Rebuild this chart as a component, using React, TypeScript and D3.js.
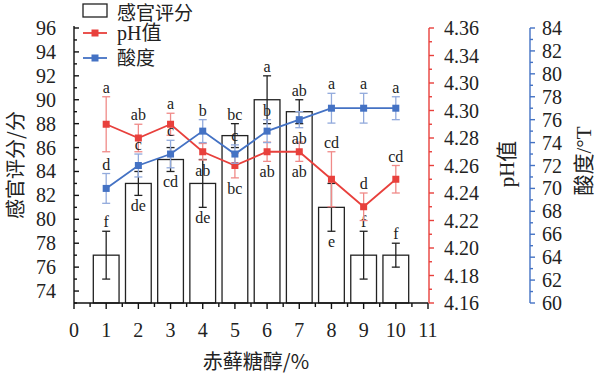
import React from "react";
import * as d3 from "d3";

const doses = [1, 2, 3, 4, 5, 6, 7, 8, 9, 10];
const sensory = [77, 83, 85, 83, 87, 90, 89, 81, 77, 77];
const sensoryErr = [2, 1, 1, 2, 1, 2, 1, 2, 2, 1];
const sensoryLetters = ["f", "de", "cd", "de", "bc", "a", "ab", "e", "f", "f"];
const sensoryPlace = ["above", "below", "below", "below", "above", "above", "above", "below", "above", "above"];

const ph = [4.29, 4.28, 4.29, 4.27, 4.26, 4.27, 4.27, 4.25, 4.23, 4.25];
const phErr = [0.02, 0.01, 0.008, 0.006, 0.009, 0.007, 0.007, 0.02, 0.01, 0.01];
const phLetters = ["a", "ab", "a", "ab", "bc", "ab", "ab", "cd", "d", "cd"];
const phPlace = ["above", "above", "above", "below", "below", "below", "below", "above", "above", "above"];

const acidity = [70, 72, 73, 75, 73, 75, 76, 77, 77, 77];
const acidityErr = [1.3, 1.0, 1.2, 1.0, 0.8, 1.0, 0.7, 1.3, 1.3, 1.0];
const acidityLetters = ["d", "c", "c", "b", "c", "b", "ab", "a", "a", "a"];
const acidityPlace = ["above", "above", "above", "above", "above", "above", "below", "above", "above", "above"];

const xTicks = [0, 1, 2, 3, 4, 5, 6, 7, 8, 9, 10, 11];
const leftTicks = [74, 76, 78, 80, 82, 84, 86, 88, 90, 92, 94, 96];
const phTicks = [4.16, 4.18, 4.2, 4.22, 4.24, 4.26, 4.28, 4.3, 4.32, 4.34, 4.36];
const phTickLabels = ["4.16", "4.18", "4.20", "4.22", "4.24", "4.26", "4.28", "4.30", "4.30", "4.34", "4.36"];
const acidTicks = [60, 62, 64, 66, 68, 70, 72, 74, 76, 78, 80, 82, 84];

const RED = "#e8403c";
const RED_LIGHT = "#f08a88";
const BLUE = "#4472c4";
const BLUE_LIGHT = "#92aadc";
const SERIF = "'Liberation Serif', 'Noto Sans CJK SC', serif";
const CJK = "'Noto Sans CJK SC', 'Liberation Serif', sans-serif";

export default function App() {
  const W = 602, H = 377;
  const x = d3.scaleLinear().domain([0, 11]).range([74, 428]);
  const yL = d3.scaleLinear().domain([73, 96]).range([303, 28]);
  const yP = d3.scaleLinear().domain([4.16, 4.36]).range([303, 28]);
  const yA = d3.scaleLinear().domain([60, 84]).range([303, 28]);
  const barW = x(0.8) - x(0);
  const phAxisX = 429;
  const acAxisX = 530;

  const line = (ys: number[], ysc: d3.ScaleLinear<number, number>) =>
    d3.line<number>().x((_, i) => x(doses[i])).y((v) => ysc(v))(ys) || "";

  const labelY = (place: string, top: number, bottom: number) =>
    place === "above" ? top - 4 : bottom + 16;

  const errBar = (cx: number, y1: number, y2: number, color: string, key: string, w = 1.3) => (
    <g key={key} stroke={color} strokeWidth={w}>
      <line x1={cx} x2={cx} y1={y1} y2={y2} />
      <line x1={cx - 4} x2={cx + 4} y1={y1} y2={y1} />
      <line x1={cx - 4} x2={cx + 4} y1={y2} y2={y2} />
    </g>
  );

  const leftMinor = d3.range(73, 96, 2);
  const xMinor = d3.range(0.5, 11, 1);
  const phMinor = d3.range(4.17, 4.36, 0.02);
  const acMinor = d3.range(61, 84, 2);

  return (
    <svg width={W} height={H} style={{ position: "absolute", left: 0, top: 0, background: "#fff" }}>
      {/* bars */}
      {doses.map((d, i) => (
        <rect key={"b" + i} x={x(d) - barW / 2} y={yL(sensory[i])} width={barW} height={yL(73) - yL(sensory[i])}
          fill="#fff" stroke="#222" strokeWidth={1.3} />
      ))}
      {doses.map((d, i) => errBar(x(d), yL(sensory[i] + sensoryErr[i]), yL(sensory[i] - sensoryErr[i]), "#222", "be" + i))}
      {doses.map((d, i) => (
        <text key={"bl" + i} x={x(d)} y={labelY(sensoryPlace[i], yL(sensory[i] + sensoryErr[i]), yL(sensory[i] - sensoryErr[i]))}
          textAnchor="middle" fontFamily={SERIF} fontSize={16} fill="#222">{sensoryLetters[i]}</text>
      ))}

      {/* pH series */}
      {doses.map((d, i) => errBar(x(d), yP(ph[i] + phErr[i]), yP(ph[i] - phErr[i]), RED_LIGHT, "pe" + i))}
      <path d={line(ph, yP)} fill="none" stroke={RED} strokeWidth={1.8} />
      {doses.map((d, i) => (
        <rect key={"pm" + i} x={x(d) - 3.5} y={yP(ph[i]) - 3.5} width={7} height={7} fill={RED} />
      ))}
      {doses.map((d, i) => (
        <text key={"pl" + i} x={x(d)} y={labelY(phPlace[i], yP(ph[i] + phErr[i]), yP(ph[i] - phErr[i]))}
          textAnchor="middle" fontFamily={SERIF} fontSize={16} fill="#222">{phLetters[i]}</text>
      ))}

      {/* acidity series */}
      {doses.map((d, i) => errBar(x(d), yA(acidity[i] + acidityErr[i]), yA(acidity[i] - acidityErr[i]), BLUE_LIGHT, "ae" + i))}
      <path d={line(acidity, yA)} fill="none" stroke={BLUE} strokeWidth={1.8} />
      {doses.map((d, i) => (
        <rect key={"am" + i} x={x(d) - 3.5} y={yA(acidity[i]) - 3.5} width={7} height={7} fill={BLUE} />
      ))}
      {doses.map((d, i) => (
        <text key={"al" + i} x={x(d)} y={labelY(acidityPlace[i], yA(acidity[i] + acidityErr[i]), yA(acidity[i] - acidityErr[i]))}
          textAnchor="middle" fontFamily={SERIF} fontSize={16} fill="#222">{acidityLetters[i]}</text>
      ))}

      {/* left axis */}
      <g stroke="#111" strokeWidth={1.4}>
        <line x1={x(0)} x2={x(0)} y1={yL(73)} y2={yL(96) - 2} />
        {leftTicks.map((t) => <line key={"lt" + t} x1={x(0)} x2={x(0) + 5} y1={yL(t)} y2={yL(t)} />)}
        {leftMinor.map((t) => <line key={"lm" + t} x1={x(0)} x2={x(0) + 3} y1={yL(t)} y2={yL(t)} />)}
      </g>
      {leftTicks.map((t) => (
        <text key={"ll" + t} x={56} y={yL(t)} dy="0.35em" textAnchor="end" fontFamily={SERIF} fontSize={20} fill="#222">{t}</text>
      ))}

      {/* bottom axis */}
      <g stroke="#111" strokeWidth={1.4}>
        <line x1={x(0)} x2={x(11)} y1={303} y2={303} />
        {xTicks.map((t) => <line key={"xt" + t} x1={x(t)} x2={x(t)} y1={303} y2={309} />)}
        {xMinor.map((t) => <line key={"xm" + t} x1={x(t)} x2={x(t)} y1={303} y2={307} />)}
      </g>
      {xTicks.map((t) => (
        <text key={"xl" + t} x={x(t)} y={337} textAnchor="middle" fontFamily={SERIF} fontSize={20} fill="#222">{t}</text>
      ))}

      {/* pH axis */}
      <g stroke={RED} strokeWidth={1.4}>
        <line x1={phAxisX} x2={phAxisX} y1={yP(4.16)} y2={yP(4.36)} />
        {phTicks.map((t) => <line key={"pt" + t} x1={phAxisX} x2={phAxisX + 5} y1={yP(t)} y2={yP(t)} />)}
        {phMinor.map((t) => <line key={"pm2" + t} x1={phAxisX} x2={phAxisX + 3} y1={yP(t)} y2={yP(t)} />)}
      </g>
      {phTicks.map((t, i) => (
        <text key={"pll" + t} x={444} y={yP(t)} dy="0.35em" fontFamily={SERIF} fontSize={20} fill="#222">{phTickLabels[i]}</text>
      ))}

      {/* acidity axis */}
      <g stroke={BLUE} strokeWidth={1.4}>
        <line x1={acAxisX} x2={acAxisX} y1={yA(60)} y2={yA(84)} />
        {acidTicks.map((t) => <line key={"at" + t} x1={acAxisX} x2={acAxisX + 5} y1={yA(t)} y2={yA(t)} />)}
        {acMinor.map((t) => <line key={"am2" + t} x1={acAxisX} x2={acAxisX + 3} y1={yA(t)} y2={yA(t)} />)}
      </g>
      {acidTicks.map((t) => (
        <text key={"all" + t} x={542} y={yA(t)} dy="0.35em" fontFamily={SERIF} fontSize={20} fill="#222">{t}</text>
      ))}

      {/* axis titles */}
      <text x={256} y={369} textAnchor="middle" fontFamily={CJK} fontSize={20} fill="#222">赤藓糖醇/%</text>
      <text transform="translate(23,165) rotate(-90)" textAnchor="middle" fontFamily={CJK} fontSize={20} fill="#222">感官评分/分</text>
      <text transform="translate(514,164) rotate(-90)" textAnchor="middle" fontFamily={SERIF} fontSize={21} fill="#222">pH值</text>
      <text transform="translate(591,161) rotate(-90)" textAnchor="middle" fontFamily={SERIF} fontSize={21} fill="#222">酸度/°T</text>

      {/* legend */}
      <rect x={83} y={4} width={24} height={13} fill="#fff" stroke="#222" strokeWidth={1.3} />
      <text x={117} y={20} fontFamily={CJK} fontSize={19} fill="#222">感官评分</text>
      <line x1={83} x2={107} y1={33} y2={33} stroke={RED} strokeWidth={1.8} />
      <rect x={91.5} y={29.5} width={7} height={7} fill={RED} />
      <text x={117} y={40} fontFamily={SERIF} fontSize={20} fill="#222">pH值</text>
      <line x1={83} x2={107} y1={58} y2={58} stroke={BLUE} strokeWidth={1.8} />
      <rect x={91.5} y={54.5} width={7} height={7} fill={BLUE} />
      <text x={117} y={65} fontFamily={CJK} fontSize={19} fill="#222">酸度</text>
    </svg>
  );
}
